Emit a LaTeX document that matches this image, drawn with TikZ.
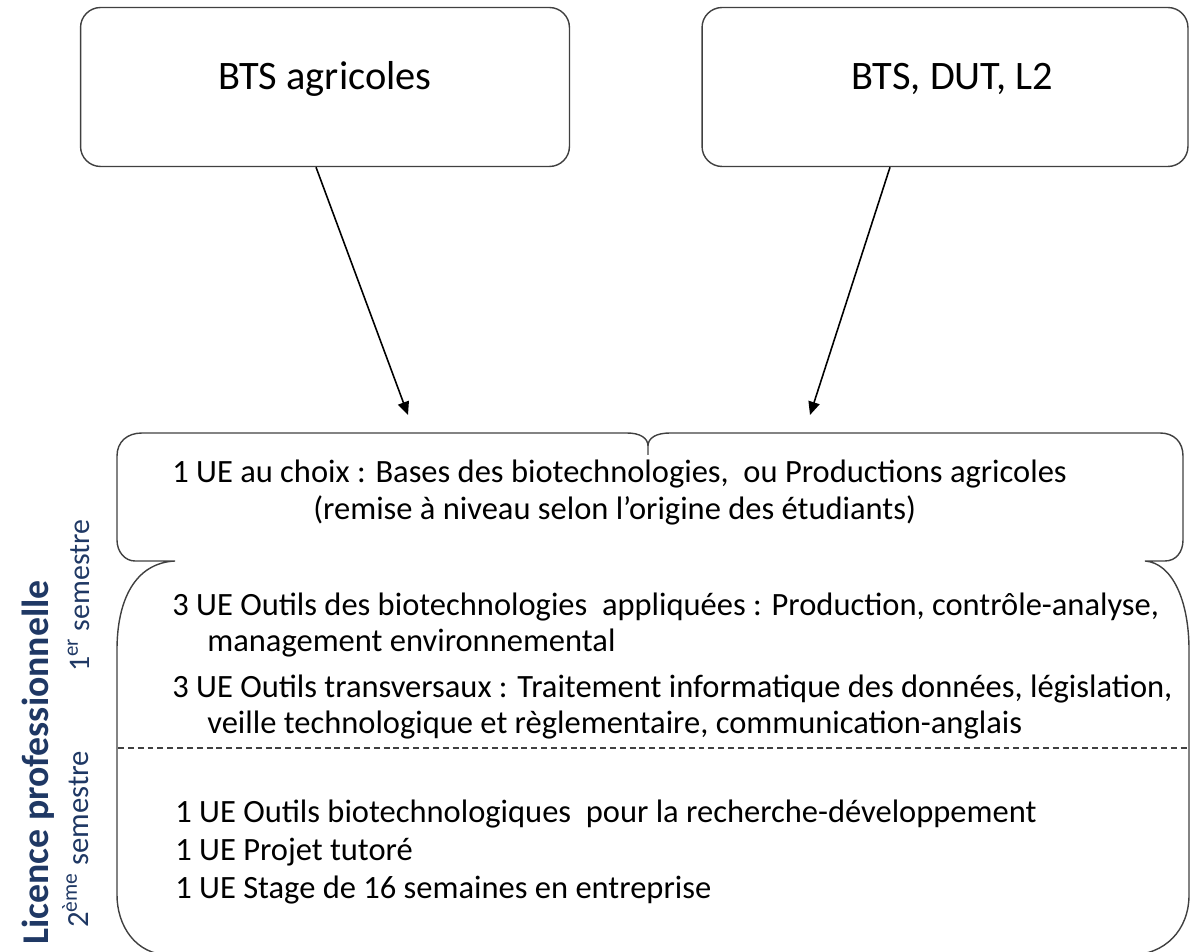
\documentclass[tikz,border=0pt]{standalone}
\usepackage{fontspec}
\setmainfont{Carlito}
\usetikzlibrary{arrows.meta}
\definecolor{lpblue}{RGB}{31,56,100}
\definecolor{edge}{RGB}{64,64,64}

\begin{document}
\begin{tikzpicture}[x=0.02cm,y=-0.02cm,
    entry/.style={draw=edge,line width=0.8pt,rectangle,rounded corners=0.4cm,minimum height=3.18cm,text height=0.6cm,text depth=0.5cm,font=\fontsize{23}{28}\selectfont},
    feed/.style={-{Triangle[length=7.5pt,width=6.5pt]},line width=0.9pt},
    ue/.style={anchor=base west,inner sep=0pt,font=\fontsize{18.5}{22}\selectfont},
    side/.style={anchor=base west,inner sep=0pt,rotate=90,text=lpblue}]
  \useasboundingbox (0,0) rectangle (1190,952);
  \draw node (bts) [entry,minimum width=9.78cm] at (325,87) {BTS agricoles}
        node (dut) [entry,minimum width=9.72cm] at (945,87) {\hspace{0.3cm}BTS, DUT, L2};
  \coordinate (inA) at (408,415);
  \coordinate (inB) at (810,415);
  \draw[feed] ([xshift=-0.18cm]bts.south) -- (inA);
  \draw[feed] ([xshift=-1.1cm]dut.south) -- (inB);

  % brace shaped frame of the licence
  \draw[edge,line width=0.8pt] (142,433) -- (627,433) .. controls (640,433) and (648,438) .. (648,446) -- (648,455)
    -- (648,446) .. controls (648,438) and (656,433) .. (670,433) -- (1160,433)
    .. controls (1174,433) and (1183,442) .. (1183,456) -- (1183,540)
    .. controls (1183,552) and (1176,561) .. (1165,561) -- (1145,561)
    .. controls (1172,563) and (1189,600) .. (1189,650) -- (1189,895)
    .. controls (1189,930) and (1165,955) .. (1130,955) -- (170,955)
    .. controls (135,955) and (117,925) .. (117,895) -- (117,650)
    .. controls (117,600) and (135,563) .. (175,561) -- (135,561)
    .. controls (125,561) and (117,552) .. (117,540) -- (117,456)
    .. controls (117,442) and (127,433) .. (142,433) -- cycle;
  \draw[edge,line width=0.7pt,dash pattern=on 3.4pt off 2.2pt] (118,748) -- (1190,748);

  \node (ue1) [ue] at (172,483) {1 UE au choix : Bases des biotechnologies,\ \ ou Productions agricoles};
  \node (ue1b) [ue] at (313,520) {(remise à niveau selon l’origine des étudiants)};
  \node (ue2) [ue] at (172,615) {3 UE Outils des biotechnologies\ \ appliquées : Production, contrôle-analyse,};
  \node (ue2b) [ue] at (207,651) {management environnemental};
  \node (ue3) [ue] at (172,697) {3 UE Outils transversaux : Traitement informatique des données, législation,};
  \node (ue3b) [ue] at (207,733) {veille technologique et règlementaire, communication-anglais};
  \node (ue4) [ue] at (175,822) {1 UE Outils biotechnologiques\ \ pour la recherche-développement};
  \node (ue5) [ue] at (175,860) {1 UE Projet tutoré};
  \node (ue6) [ue] at (175,898) {1 UE Stage de 16 semaines en entreprise};

  \node (lp) [side,font=\bfseries\fontsize{21.5}{26}\selectfont] at (49,945) {Licence professionnelle};
  \node (sem1) [side,font=\fontsize{17}{22}\selectfont] at (89,672) {1\textsuperscript{er} semestre};
  \node (sem2) [side,font=\fontsize{17.5}{22}\selectfont] at (88,928) {2\textsuperscript{ème} semestre};
\end{tikzpicture}
\end{document}
